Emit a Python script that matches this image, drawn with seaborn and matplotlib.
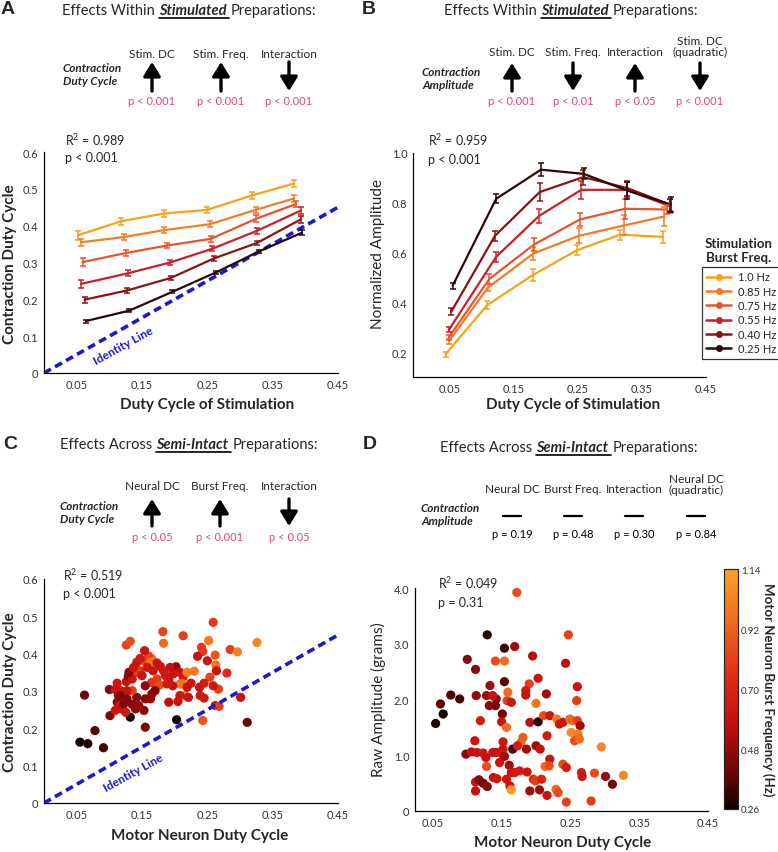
import numpy as np
import pandas as pd
import seaborn as sns
import matplotlib.pyplot as plt
from matplotlib.colors import LinearSegmentedColormap, Normalize
from matplotlib.cm import ScalarMappable
from matplotlib.lines import Line2D
from matplotlib.patches import FancyArrowPatch

W, H = 778, 853

# ---- stimulated preparations (panels A, B) ----
freqs = ['1.0 Hz', '0.85 Hz', '0.75 Hz', '0.55 Hz', '0.40 Hz', '0.25 Hz']
freq_colors = ['#f7a21b', '#f07d28', '#e9552b', '#c8202a', '#8a1414', '#2a0808']

a_dc = [[0.052, 0.118, 0.183, 0.250, 0.318, 0.382],
        [0.057, 0.122, 0.184, 0.254, 0.324, 0.383],
        [0.059, 0.126, 0.188, 0.255, 0.325, 0.386],
        [0.057, 0.129, 0.193, 0.257, 0.326, 0.393],
        [0.062, 0.127, 0.194, 0.260, 0.326, 0.393],
        [0.064, 0.130, 0.196, 0.263, 0.329, 0.395]]
a_cdc = [[0.374, 0.412, 0.433, 0.443, 0.482, 0.514],
         [0.355, 0.369, 0.388, 0.404, 0.443, 0.474],
         [0.301, 0.326, 0.346, 0.364, 0.419, 0.459],
         [0.242, 0.271, 0.300, 0.337, 0.386, 0.441],
         [0.199, 0.224, 0.258, 0.311, 0.353, 0.417],
         [0.141, 0.169, 0.220, 0.273, 0.330, 0.381]]
a_err = [[0.012, 0.010, 0.009, 0.008, 0.010, 0.009],
         [0.010, 0.009, 0.008, 0.008, 0.009, 0.009],
         [0.010, 0.009, 0.007, 0.008, 0.009, 0.009],
         [0.010, 0.008, 0.007, 0.007, 0.008, 0.009],
         [0.008, 0.006, 0.006, 0.006, 0.006, 0.009],
         [0.004, 0.004, 0.004, 0.004, 0.005, 0.006]]

b_dc = [[0.043, 0.108, 0.179, 0.248, 0.316, 0.383],
        [0.048, 0.109, 0.180, 0.251, 0.322, 0.385],
        [0.048, 0.111, 0.181, 0.253, 0.323, 0.389],
        [0.048, 0.122, 0.189, 0.255, 0.326, 0.393],
        [0.052, 0.120, 0.190, 0.258, 0.327, 0.394],
        [0.054, 0.122, 0.192, 0.259, 0.327, 0.395]]
b_amp = [[0.192, 0.389, 0.509, 0.609, 0.672, 0.663],
         [0.243, 0.459, 0.596, 0.667, 0.709, 0.745],
         [0.259, 0.493, 0.632, 0.733, 0.776, 0.773],
         [0.289, 0.583, 0.747, 0.852, 0.852, 0.787],
         [0.363, 0.667, 0.843, 0.903, 0.859, 0.792],
         [0.467, 0.816, 0.933, 0.916, 0.849, 0.793]]
b_err = [[0.010, 0.015, 0.025, 0.020, 0.020, 0.025],
         [0.010, 0.015, 0.025, 0.030, 0.040, 0.040],
         [0.010, 0.020, 0.025, 0.025, 0.040, 0.020],
         [0.010, 0.020, 0.030, 0.035, 0.030, 0.030],
         [0.015, 0.020, 0.035, 0.030, 0.030, 0.025],
         [0.012, 0.018, 0.025, 0.022, 0.035, 0.030]]

# ---- semi-intact preparations (panels C, D) ----
c_mndc = [0.055, 0.067, 0.091, 0.078, 0.062, 0.101, 0.100, 0.126, 0.132, 0.126,
          0.112, 0.129, 0.132, 0.155, 0.203, 0.243, 0.311, 0.259, 0.182, 0.183,
          0.213, 0.252, 0.241, 0.243, 0.285, 0.296, 0.326, 0.262, 0.263, 0.264,
          0.250, 0.235, 0.254, 0.280, 0.267, 0.262, 0.268, 0.301, 0.239, 0.245,
          0.238, 0.245, 0.259, 0.216, 0.221, 0.208, 0.205, 0.191, 0.202, 0.198,
          0.208, 0.213, 0.191, 0.186, 0.193, 0.178, 0.167, 0.173, 0.165, 0.177,
          0.165, 0.160, 0.153, 0.163, 0.154, 0.140, 0.142, 0.147, 0.150, 0.158,
          0.135, 0.130, 0.155, 0.165, 0.170, 0.163, 0.153, 0.155, 0.142, 0.135,
          0.127, 0.117, 0.114, 0.112, 0.109, 0.116, 0.119, 0.127, 0.122, 0.135,
          0.140, 0.145, 0.117, 0.125, 0.109, 0.137, 0.142, 0.147, 0.208, 0.212,
          0.219, 0.230, 0.219, 0.225, 0.173, 0.183, 0.197, 0.188]
c_cdc = [0.163, 0.159, 0.148, 0.194, 0.289, 0.234, 0.304, 0.423, 0.433, 0.325,
         0.321, 0.339, 0.230, 0.203, 0.223, 0.221, 0.216, 0.484, 0.459, 0.428,
         0.448, 0.435, 0.417, 0.406, 0.411, 0.405, 0.430, 0.396, 0.370, 0.354,
         0.381, 0.393, 0.337, 0.348, 0.305, 0.261, 0.259, 0.283, 0.288, 0.281,
         0.310, 0.321, 0.314, 0.288, 0.283, 0.288, 0.272, 0.270, 0.365, 0.346,
         0.350, 0.337, 0.332, 0.341, 0.363, 0.366, 0.354, 0.332, 0.323, 0.316,
         0.387, 0.394, 0.381, 0.377, 0.408, 0.359, 0.350, 0.354, 0.341, 0.363,
         0.332, 0.350, 0.314, 0.292, 0.301, 0.279, 0.248, 0.279, 0.283, 0.301,
         0.301, 0.301, 0.288, 0.270, 0.304, 0.261, 0.252, 0.279, 0.265, 0.264,
         0.252, 0.261, 0.288, 0.243, 0.248, 0.363, 0.377, 0.387, 0.319, 0.319,
         0.350, 0.353, 0.310, 0.321, 0.375, 0.354, 0.314, 0.319]
c_freq = [0.27, 0.28, 0.34, 0.36, 0.40, 0.44, 0.45, 0.82, 0.85, 0.60,
          0.62, 0.45, 0.27, 0.42, 0.28, 0.88, 0.40, 0.78, 0.82, 0.95,
          0.80, 1.00, 0.80, 0.78, 0.80, 1.02, 1.05, 0.88, 0.98, 0.60,
          0.62, 0.60, 0.82, 0.75, 0.80, 0.62, 0.80, 0.60, 0.62, 0.64,
          0.60, 0.65, 0.62, 0.98, 0.60, 0.62, 0.60, 0.58, 0.48, 0.62,
          0.60, 0.65, 0.60, 0.62, 0.58, 0.62, 0.60, 0.80, 0.78, 0.85,
          1.00, 0.82, 0.80, 0.98, 0.60, 0.62, 0.80, 0.78, 0.60, 0.62,
          0.60, 0.45, 0.45, 0.46, 0.44, 0.48, 0.44, 0.46, 0.45, 0.80,
          0.60, 0.62, 0.45, 0.46, 0.60, 0.62, 0.60, 0.45, 0.44, 0.46,
          0.45, 0.48, 0.44, 0.62, 0.60, 0.62, 0.60, 0.64, 1.00, 0.98,
          1.02, 1.00, 0.60, 0.62, 0.60, 0.62, 0.60, 0.64]

d_mndc = [0.172, 0.129, 0.247, 0.154, 0.169, 0.100, 0.195, 0.141, 0.154, 0.112,
          0.243, 0.154, 0.203, 0.190, 0.260, 0.076, 0.061, 0.089, 0.065, 0.054,
          0.113, 0.128, 0.132, 0.133, 0.142, 0.137, 0.141, 0.158, 0.159, 0.164,
          0.185, 0.185, 0.200, 0.215, 0.259, 0.151, 0.150, 0.157, 0.119, 0.191,
          0.203, 0.211, 0.220, 0.230, 0.234, 0.239, 0.249, 0.253, 0.260, 0.264,
          0.251, 0.261, 0.256, 0.263, 0.216, 0.295, 0.111, 0.152, 0.152, 0.178,
          0.181, 0.186, 0.166, 0.173, 0.200, 0.206, 0.098, 0.106, 0.114, 0.123,
          0.127, 0.137, 0.142, 0.151, 0.154, 0.128, 0.147, 0.220, 0.213, 0.219,
          0.239, 0.244, 0.161, 0.164, 0.169, 0.176, 0.187, 0.196, 0.199, 0.208,
          0.157, 0.162, 0.138, 0.143, 0.164, 0.112, 0.117, 0.123, 0.129, 0.112,
          0.191, 0.205, 0.216, 0.229, 0.232, 0.244, 0.280, 0.266, 0.267, 0.285,
          0.301, 0.311, 0.327]
d_amp = [3.92, 3.16, 3.16, 2.92, 2.95, 2.72, 2.78, 2.69, 2.69, 2.54,
         2.65, 2.32, 2.38, 2.28, 2.23, 2.08, 1.92, 2.01, 1.74, 1.57,
         2.07, 2.07, 1.89, 2.25, 2.01, 2.07, 1.89, 1.98, 2.13, 1.95,
         2.16, 2.08, 1.93, 2.10, 1.98, 1.74, 1.60, 1.50, 1.62, 1.59,
         1.60, 1.71, 1.71, 1.65, 1.56, 1.59, 1.65, 1.62, 1.62, 1.53,
         1.41, 1.38, 1.26, 1.29, 1.35, 1.15, 1.26, 1.24, 1.11, 1.23,
         1.32, 1.11, 1.11, 1.17, 1.17, 1.11, 1.02, 1.06, 1.05, 1.04,
         0.96, 1.05, 1.05, 1.02, 0.98, 0.80, 0.87, 0.93, 0.80, 0.81,
         0.84, 0.78, 0.82, 0.69, 0.69, 0.72, 0.70, 0.57, 0.54, 0.57,
         0.57, 0.45, 0.60, 0.58, 0.38, 0.52, 0.56, 0.50, 0.44, 0.36,
         0.36, 0.38, 0.28, 0.39, 0.33, 0.16, 0.18, 0.69, 0.62, 0.68,
         0.62, 0.48, 0.64]
d_freq = [0.85, 0.30, 0.82, 0.33, 0.50, 0.45, 0.55, 0.85, 0.95, 0.45,
          0.55, 0.38, 0.60, 0.80, 0.60, 0.35, 0.38, 0.35, 0.26, 0.29,
          0.48, 0.50, 0.45, 0.50, 0.48, 0.60, 0.42, 0.80, 0.95, 0.62,
          0.65, 0.60, 1.00, 0.50, 0.80, 0.40, 0.60, 0.95, 0.65, 0.58,
          0.30, 0.85, 0.62, 1.00, 0.60, 0.62, 0.95, 0.92, 0.80, 0.50,
          1.05, 1.00, 0.85, 0.95, 0.65, 1.05, 0.60, 0.62, 0.60, 0.95,
          0.90, 0.50, 0.35, 0.65, 0.50, 0.60, 0.45, 0.58, 0.60, 0.62,
          0.58, 0.62, 0.60, 0.65, 0.50, 0.85, 0.60, 0.60, 0.95, 0.85,
          0.85, 0.65, 0.50, 0.60, 0.62, 0.65, 0.62, 0.75, 0.80, 0.70,
          0.62, 0.60, 0.58, 0.62, 1.10, 0.60, 0.45, 0.42, 0.45, 0.58,
          0.50, 0.50, 0.60, 0.95, 0.85, 0.82, 0.80, 0.65, 0.60, 0.85,
          0.48, 0.42, 1.05]

x_ticks = [0.05, 0.15, 0.25, 0.35, 0.45]

sns.set_style('white')
plt.rcParams['font.family'] = ['Lato', 'DejaVu Sans']
plt.rcParams['mathtext.fontset'] = 'custom'
plt.rcParams['mathtext.rm'] = 'Lato'

burst_cmap = LinearSegmentedColormap.from_list(
    'burst', [(0.0, '#100000'), (0.15, '#6a0606'), (0.35, '#c40e0e'),
              (0.55, '#e22a16'), (0.78, '#f2691e'), (1.0, '#fca228')])
burst_norm = Normalize(0.26, 1.14)

fig = plt.figure(figsize=(W / 100, H / 100), dpi=100)
renderer = fig.canvas.get_renderer()

def fx(p):
    return p / W

def fy(p):
    return 1 - p / H

def add_axes(left, top, right, bottom):
    return fig.add_axes([fx(left), fy(bottom), (right - left) / W, (bottom - top) / H])

def style(ax):
    sns.despine(ax=ax)
    for s in ['left', 'bottom']:
        ax.spines[s].set_linewidth(0.9)
        ax.spines[s].set_color('black')
    ax.tick_params(direction='in', length=3, width=0.8, labelsize=8,
                   labelcolor='#333333', pad=4)
    ax.set_xlabel('')
    ax.set_ylabel('')
    ax.set_xticks(x_ticks)
    ax.set_xticklabels(['%.2f' % v for v in x_ticks])

def rich_title(x, y, word):
    parts = [('Effects ' + ('Within' if word == 'Stimulated' else 'Across'), {}, False),
             (word, {'fontweight': 'bold', 'fontstyle': 'italic'}, True),
             ('Preparations:', {}, False)]
    for txt, kw, ul in parts:
        t = fig.text(fx(x), fy(y), txt, fontsize=10.5, va='center', ha='left', **kw)
        bb = t.get_window_extent(renderer=renderer)
        if ul:
            fig.add_artist(Line2D([bb.x0 / W, (bb.x1 + 3) / W], [(bb.y0 - 1) / H] * 2,
                                  color='black', lw=1.2))
        x += bb.width + 4

def arrow(cx, top, bottom, up):
    head, tail = (top, bottom) if up else (bottom, top)
    fig.add_artist(FancyArrowPatch((fx(cx), fy(tail)), (fx(cx), fy(head)),
                                   transform=fig.transFigure,
                                   arrowstyle='-|>,head_length=0.65,head_width=0.4',
                                   lw=2.4, color='black', mutation_scale=13,
                                   shrinkA=0, shrinkB=0))

def effect_row(items, lab_y, ar_top, ar_bot, p_y, measure, mx, my):
    fig.text(fx(mx), fy(my), measure, fontsize=8.5, fontweight='bold', fontstyle='italic',
             ha='left', va='center', linespacing=1.25)
    for cx, lab, direction, ptxt in items:
        two = '\n' in lab
        fig.text(fx(cx), fy(lab_y - (5 if two else 0)), lab, fontsize=8.5, ha='center',
                 va='center', linespacing=1.1)
        if direction == 'flat':
            fig.add_artist(Line2D([fx(cx - 9), fx(cx + 9)], [fy(ar_top)] * 2,
                                  color='black', lw=1.6))
            fig.text(fx(cx), fy(p_y), ptxt, fontsize=8, ha='center', va='center',
                     color='black')
        else:
            arrow(cx, ar_top, ar_bot, direction == 'up')
            fig.text(fx(cx), fy(p_y), ptxt, fontsize=8, ha='center', va='center',
                     color='#e0457b')

# panel letters
for lab, x, y in [('A', 8, 10), ('B', 369, 10), ('C', 10, 445), ('D', 370, 445)]:
    fig.text(fx(x), fy(y), lab, fontsize=14, fontweight='bold', family='Liberation Sans',
             ha='center', va='center')

rich_title(62, 11, 'Stimulated')
rich_title(444, 11, 'Stimulated')
rich_title(60, 445, 'Semi-Intact')
rich_title(440, 448, 'Semi-Intact')

effect_row([(152, 'Stim. DC', 'up', 'p < 0.001'),
            (221, 'Stim. Freq.', 'up', 'p < 0.001'),
            (289, 'Interaction', 'down', 'p < 0.001')],
           54, 63, 92, 102, 'Contraction\nDuty Cycle', 63, 75)
effect_row([(512, 'Stim. DC', 'up', 'p < 0.001'),
            (573, 'Stim. Freq.', 'down', 'p < 0.01'),
            (635, 'Interaction', 'up', 'p < 0.05'),
            (700, 'Stim. DC\n(quadratic)', 'down', 'p < 0.001')],
           52, 64, 92, 102, 'Contraction\nAmplitude', 422, 79)
effect_row([(152, 'Neural DC', 'up', 'p < 0.05'),
            (220, 'Burst Freq.', 'up', 'p < 0.001'),
            (289, 'Interaction', 'down', 'p < 0.05')],
           487, 500, 527, 538, 'Contraction\nDuty Cycle', 60, 513)
effect_row([(512, 'Neural DC', 'flat', 'p = 0.19'),
            (573, 'Burst Freq.', 'flat', 'p = 0.48'),
            (634, 'Interaction', 'flat', 'p = 0.30'),
            (696, 'Neural DC\n(quadratic)', 'flat', 'p = 0.84')],
           490, 517, 517, 534, 'Contraction\nAmplitude', 421, 515)

# ---- panel A ----
axA = add_axes(44, 153, 338, 374)
dfA = pd.DataFrame({'freq': np.repeat(freqs, 6), 'dc': np.concatenate(a_dc),
                    'val': np.concatenate(a_cdc)})
axA.plot([0, 0.45], [0, 0.45], ls=(0, (2.2, 1.3)), color='#1a1acc', lw=2.6, zorder=1)
sns.lineplot(data=dfA, x='dc', y='val', hue='freq', hue_order=freqs, palette=freq_colors,
             estimator=None, sort=False, lw=1.6, legend=False, ax=axA, zorder=3)
for i in range(len(freqs)):
    axA.errorbar(a_dc[i], a_cdc[i], yerr=a_err[i], fmt='none', ecolor=freq_colors[i],
                 elinewidth=1.1, capsize=2, capthick=1.1, zorder=3)
axA.set_xlim(0, 0.45)
axA.set_ylim(0, 0.6)
style(axA)
axA.set_yticks([0, 0.1, 0.2, 0.3, 0.4, 0.5, 0.6])
axA.set_yticklabels(['0', '0.1', '0.2', '0.3', '0.4', '0.5', '0.6'])
axA.text(0.122, 0.075, 'Identity Line', color='#1a1acc', fontsize=8.5, fontweight='bold',
         rotation=29, ha='center', va='center', rotation_mode='anchor')

# ---- panel B ----
axB = add_axes(413, 154, 706, 378)
dfB = pd.DataFrame({'freq': np.repeat(freqs, 6), 'dc': np.concatenate(b_dc),
                    'val': np.concatenate(b_amp)})
sns.lineplot(data=dfB, x='dc', y='val', hue='freq', hue_order=freqs, palette=freq_colors,
             estimator=None, sort=False, lw=1.6, legend=False, ax=axB)
for i in range(len(freqs)):
    axB.errorbar(b_dc[i], b_amp[i], yerr=b_err[i], fmt='none', ecolor=freq_colors[i],
                 elinewidth=1.1, capsize=2, capthick=1.1)
axB.set_xlim(-0.008, 0.45)
axB.set_ylim(0.1, 1.0)
style(axB)
axB.set_yticks([0.2, 0.4, 0.6, 0.8, 1.0])
axB.set_yticklabels(['0.2', '0.4', '0.6', '0.8', '1.0'])
handles = [Line2D([], [], color=c, marker='o', ms=4, lw=1.8) for c in freq_colors]
leg = axB.legend(handles, freqs, loc='upper left', bbox_to_anchor=(fx(702), fy(268)),
                 bbox_transform=fig.transFigure, frameon=True, fancybox=False,
                 edgecolor='black', fontsize=8, handlelength=2.2, borderpad=0.4,
                 labelspacing=0.3, handletextpad=0.6, borderaxespad=0)
leg.get_frame().set_linewidth(0.9)
fig.text(fx(739), fy(251), 'Stimulation\nBurst Freq.', fontsize=9.5, fontweight='bold',
         ha='center', va='center', linespacing=1.3)

# ---- panel C ----
axC = add_axes(44, 580, 338, 804)
axC.plot([0, 0.45], [0, 0.45], ls=(0, (2.2, 1.3)), color='#1a1acc', lw=2.6, zorder=3)
sns.scatterplot(x=c_mndc, y=c_cdc, hue=c_freq, palette=burst_cmap, hue_norm=burst_norm,
                s=44, linewidth=0, legend=False, ax=axC, zorder=2)
axC.set_xlim(0, 0.45)
axC.set_ylim(0, 0.6)
style(axC)
axC.set_yticks([0, 0.1, 0.2, 0.3, 0.4, 0.5, 0.6])
axC.set_yticklabels(['0', '0.1', '0.2', '0.3', '0.4', '0.5', '0.6'])
axC.text(0.137, 0.083, 'Identity Line', color='#1a1acc', fontsize=8.5, fontweight='bold',
         rotation=29, ha='center', va='center', rotation_mode='anchor')

# ---- panel D ----
axD = add_axes(415, 589, 708, 812)
sns.scatterplot(x=d_mndc, y=d_amp, hue=d_freq, palette=burst_cmap, hue_norm=burst_norm,
                s=44, linewidth=0, legend=False, ax=axD)
axD.set_xlim(0.024, 0.45)
axD.set_ylim(0, 4.0)
style(axD)
axD.set_yticks([0, 1, 2, 3, 4])
axD.set_yticklabels(['0', '1.0', '2.0', '3.0', '4.0'])

cax = add_axes(724, 570, 738, 810)
cb = fig.colorbar(ScalarMappable(norm=burst_norm, cmap=burst_cmap), cax=cax,
                  ticks=[0.26, 0.48, 0.70, 0.92, 1.14])
cb.ax.set_yticklabels(['0.26', '0.48', '0.70', '0.92', '1.14'])
cb.ax.tick_params(labelsize=7, length=0, pad=2, labelcolor='#333333')
cb.outline.set_linewidth(0.9)
fig.text(fx(768), fy(690), 'Motor Neuron Burst Frequency (Hz)', fontsize=9.5,
         fontweight='bold', rotation=270, ha='center', va='center')

# stats text
for x, y1, y2, r2, p in [(65, 140, 158, 'R$^2$ = 0.989', 'p < 0.001'),
                         (428, 140, 160, 'R$^2$ = 0.959', 'p < 0.001'),
                         (63, 575, 594, 'R$^2$ = 0.519', 'p < 0.001'),
                         (438, 583, 603, 'R$^2$ = 0.049', 'p = 0.31')]:
    fig.text(fx(x), fy(y1), r2, fontsize=9, ha='left', va='center')
    fig.text(fx(x), fy(y2), p, fontsize=9, ha='left', va='center')

# axis labels
fig.text(fx(10), fy(264), 'Contraction Duty Cycle', fontsize=11, fontweight='bold',
         rotation=90, ha='center', va='center')
fig.text(fx(207), fy(405), 'Duty Cycle of Stimulation', fontsize=11, fontweight='bold',
         ha='center', va='center')
fig.text(fx(378), fy(254), 'Normalized Amplitude', fontsize=11, rotation=90,
         ha='center', va='center')
fig.text(fx(573), fy(405), 'Duty Cycle of Stimulation', fontsize=11, fontweight='bold',
         ha='center', va='center')
fig.text(fx(10), fy(692), 'Contraction Duty Cycle', fontsize=11, fontweight='bold',
         rotation=90, ha='center', va='center')
fig.text(fx(200), fy(836), 'Motor Neuron Duty Cycle', fontsize=11, fontweight='bold',
         ha='center', va='center')
fig.text(fx(378), fy(700), 'Raw Amplitude (grams)', fontsize=11, rotation=90,
         ha='center', va='center')
fig.text(fx(563), fy(843), 'Motor Neuron Duty Cycle', fontsize=11, fontweight='bold',
         ha='center', va='center')

fig.savefig('out.png', dpi=100)
